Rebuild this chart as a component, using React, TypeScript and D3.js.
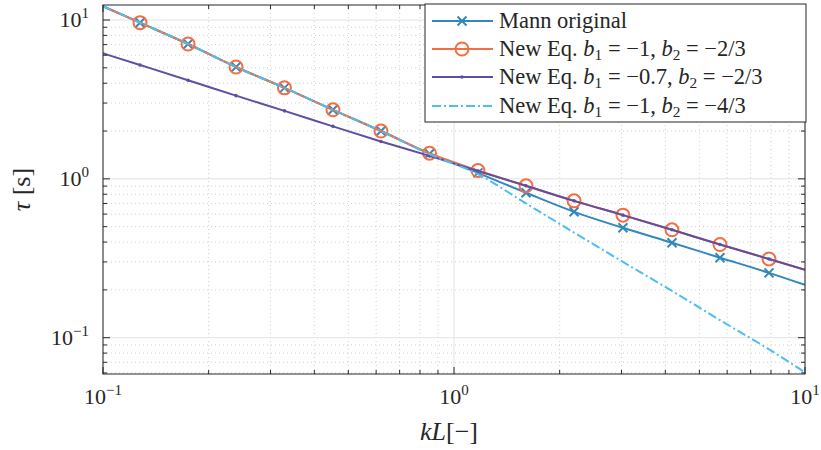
import React from "react";
import * as d3 from "d3";

// ---- data ----
const kL = [0.1, 0.1275, 0.1747, 0.2393, 0.3288, 0.4521, 0.6194, 0.8516, 1.17, 1.604, 2.198, 3.029, 4.179, 5.725, 7.897, 10];
const mannOriginal = [12.2, 9.62, 7.06, 5.06, 3.74, 2.72, 2.0, 1.44, 1.09, 0.817, 0.62, 0.492, 0.396, 0.319, 0.256, 0.215];
const newEqA = [12.2, 9.62, 7.06, 5.06, 3.74, 2.72, 2.0, 1.45, 1.128, 0.904, 0.727, 0.591, 0.478, 0.386, 0.313, 0.268];
const newEqB = [6.17, 5.21, 4.18, 3.34, 2.68, 2.14, 1.72, 1.395, 1.12, 0.904, 0.727, 0.591, 0.478, 0.386, 0.313, 0.268];
const newEqC = [12.2, 9.62, 7.06, 5.06, 3.74, 2.72, 2.0, 1.43, 1.07, 0.7, 0.459, 0.3, 0.197, 0.129, 0.0845, 0.0605];
// marker indices (interior points carry markers)
const markerIdx = [1, 2, 3, 4, 5, 6, 7, 8, 9, 10, 11, 12, 13, 14];

const xTicks = [0.1, 1, 10];
const xTickExp = ["−1", "0", "1"];
const yTicks = [0.1, 1, 10];
const yTickExp = ["−1", "0", "1"];

const W = 821, H = 450;
const L = 103, R = 805, T = 5, B = 374;
const FONT = "'Liberation Serif', 'DejaVu Serif', serif";

const C_BLUE = "#3288BD";
const C_ORANGE = "#F46D43";
const C_PURPLE = "#5E4FA2";
const C_CYAN = "#4DBEEE";

type Seg = { t: string; it?: boolean; sub?: boolean };

function Rich({ x, y, segs, size, anchor }: { x: number; y: number; segs: Seg[]; size: number; anchor?: string }) {
  let prevSub = false;
  const out: any[] = [];
  segs.forEach((s, i) => {
    let dy = 0;
    if (s.sub && !prevSub) dy = size * 0.18;
    else if (!s.sub && prevSub) dy = -size * 0.18;
    prevSub = !!s.sub;
    out.push(
      <tspan key={i} dy={dy} fontStyle={s.it ? "italic" : "normal"} fontSize={s.sub ? size * 0.68 : size}>
        {s.t}
      </tspan>
    );
  });
  return (
    <text x={x} y={y} fontFamily={FONT} fontSize={size} fill="#262626" textAnchor={anchor || "start"} style={{ whiteSpace: "pre" }}>
      {out}
    </text>
  );
}

export default function App() {
  const yTop = Math.pow(10, 1 + 15 / 158.85);
  const yBot = Math.pow(10, -1 - 36.3 / 158.85);
  const x = d3.scaleLog().domain([0.1, 10]).range([L, R]);
  const y = d3.scaleLog().domain([yBot, yTop]).range([B, T]);

  const line = (vals: number[]) =>
    d3
      .line<number>()
      .x((_, i) => x(kL[i]))
      .y((v) => y(v))
      .curve(d3.curveMonotoneX)(vals) || "";

  const minorX: number[] = [];
  for (const dec of [0.1, 1]) for (let m = 2; m <= 9; m++) minorX.push(dec * m);
  const minorY: number[] = [];
  for (const dec of [0.01, 0.1, 1, 10]) for (let m = 2; m <= 9; m++) {
    const v = dec * m;
    if (v > yBot && v < yTop) minorY.push(v);
  }

  const axisCol = "#262626";
  const xMark = (cx: number, cy: number, k: string) => (
    <g key={k} stroke={C_BLUE} strokeWidth={2}>
      <line x1={cx - 4.5} y1={cy - 4.5} x2={cx + 4.5} y2={cy + 4.5} />
      <line x1={cx - 4.5} y1={cy + 4.5} x2={cx + 4.5} y2={cy - 4.5} />
    </g>
  );

  const legendRows = [
    { y: 21, color: C_BLUE, kind: "x", segs: [{ t: "Mann original" }] as Seg[] },
    {
      y: 49, color: C_ORANGE, kind: "o",
      segs: [{ t: "New Eq. " }, { t: "b", it: true }, { t: "1", sub: true }, { t: " = −1, " }, { t: "b", it: true }, { t: "2", sub: true }, { t: " = −2/3" }] as Seg[],
    },
    {
      y: 77, color: C_PURPLE, kind: ".",
      segs: [{ t: "New Eq. " }, { t: "b", it: true }, { t: "1", sub: true }, { t: " = −0.7, " }, { t: "b", it: true }, { t: "2", sub: true }, { t: " = −2/3" }] as Seg[],
    },
    {
      y: 106, color: C_CYAN, kind: "-.",
      segs: [{ t: "New Eq. " }, { t: "b", it: true }, { t: "1", sub: true }, { t: " = −1, " }, { t: "b", it: true }, { t: "2", sub: true }, { t: " = −4/3" }] as Seg[],
    },
  ];

  return (
    <svg width={W} height={H} style={{ position: "absolute", left: 0, top: 0, background: "#fff" }}>
      <defs>
        <clipPath id="plot">
          <rect x={L} y={T} width={R - L} height={B - T} />
        </clipPath>
      </defs>
      <rect x={0} y={0} width={W} height={H} fill="#fff" />
      {/* minor grid */}
      <g stroke="#c4c4c4" strokeWidth={0.8} strokeDasharray="1,3">
        {minorX.map((v, i) => (
          <line key={"mx" + i} x1={x(v)} x2={x(v)} y1={T} y2={B} />
        ))}
        {minorY.map((v, i) => (
          <line key={"my" + i} x1={L} x2={R} y1={y(v)} y2={y(v)} />
        ))}
      </g>
      {/* major grid */}
      <g stroke="#e3e3e3" strokeWidth={1}>
        {xTicks.map((v, i) => (
          <line key={"gx" + i} x1={x(v)} x2={x(v)} y1={T} y2={B} />
        ))}
        {yTicks.map((v, i) => (
          <line key={"gy" + i} x1={L} x2={R} y1={y(v)} y2={y(v)} />
        ))}
      </g>

      {/* series */}
      <g clipPath="url(#plot)" fill="none" strokeWidth={2}>
        <path d={line(mannOriginal)} stroke={C_BLUE} />
        {markerIdx.map((i) => xMark(x(kL[i]), y(mannOriginal[i]), "mx" + i))}
        <path d={line(newEqA)} stroke={C_ORANGE} />
        {markerIdx.map((i) => (
          <circle key={"oc" + i} cx={x(kL[i])} cy={y(newEqA[i])} r={6.5} stroke={C_ORANGE} strokeWidth={2} fill="none" />
        ))}
        <path d={line(newEqB)} stroke={C_PURPLE} />
        {markerIdx.map((i) => (
          <circle key={"pd" + i} cx={x(kL[i])} cy={y(newEqB[i])} r={1.8} fill={C_PURPLE} stroke="none" />
        ))}
        <path d={line(newEqC)} stroke={C_CYAN} strokeDasharray="9,3,2,3" />
      </g>

      {/* axes box + ticks */}
      <g stroke={axisCol} strokeWidth={1} fill="none">
        <rect x={L} y={T} width={R - L} height={B - T} />
        {xTicks.map((v, i) => (
          <g key={"xt" + i}>
            <line x1={x(v)} x2={x(v)} y1={B} y2={B - 7} />
            <line x1={x(v)} x2={x(v)} y1={T} y2={T + 7} />
          </g>
        ))}
        {minorX.map((v, i) => (
          <g key={"xmt" + i}>
            <line x1={x(v)} x2={x(v)} y1={B} y2={B - 4} />
            <line x1={x(v)} x2={x(v)} y1={T} y2={T + 4} />
          </g>
        ))}
        {yTicks.map((v, i) => (
          <g key={"yt" + i}>
            <line x1={L} x2={L + 7} y1={y(v)} y2={y(v)} />
            <line x1={R} x2={R - 7} y1={y(v)} y2={y(v)} />
          </g>
        ))}
        {minorY.map((v, i) => (
          <g key={"ymt" + i}>
            <line x1={L} x2={L + 4} y1={y(v)} y2={y(v)} />
            <line x1={R} x2={R - 4} y1={y(v)} y2={y(v)} />
          </g>
        ))}
      </g>

      {/* tick labels */}
      {xTicks.map((v, i) => (
        <text key={"xl" + i} x={x(v)} y={404} fontFamily={FONT} fontSize={22} fill={axisCol} textAnchor="middle">
          10<tspan dy={-9} fontSize={15}>{xTickExp[i]}</tspan>
        </text>
      ))}
      {yTicks.map((v, i) => (
        <text key={"yl" + i} x={89} y={y(v) + 7} fontFamily={FONT} fontSize={22} fill={axisCol} textAnchor="end">
          10<tspan dy={-9} fontSize={15}>{yTickExp[i]}</tspan>
        </text>
      ))}

      {/* axis labels */}
      <text x={449} y={440} fontFamily={FONT} fontSize={26} fill={axisCol} textAnchor="middle">
        <tspan fontStyle="italic">kL</tspan>[−]
      </text>
      <text transform={`translate(30, ${(T + B) / 2}) rotate(-90)`} fontFamily={FONT} fontSize={26} fill={axisCol} textAnchor="middle" style={{ whiteSpace: "pre" }}>
        <tspan fontStyle="italic">τ</tspan> [s]
      </text>

      {/* legend */}
      <rect x={425} y={4} width={381} height={118} fill="#fff" stroke={axisCol} strokeWidth={1} />
      {legendRows.map((r, i) => (
        <g key={"lg" + i}>
          <line x1={432} x2={493} y1={r.y} y2={r.y} stroke={r.color} strokeWidth={2} strokeDasharray={r.kind === "-." ? "9,3,2,3" : undefined} />
          {r.kind === "x" && xMark(462, r.y, "lgx")}
          {r.kind === "o" && <circle cx={462} cy={r.y} r={6.5} stroke={r.color} strokeWidth={2} fill="none" />}
          {r.kind === "." && <circle cx={462} cy={r.y} r={1.8} fill={r.color} />}
          <Rich x={499} y={r.y + 7} segs={r.segs} size={22.5} />
        </g>
      ))}
    </svg>
  );
}
